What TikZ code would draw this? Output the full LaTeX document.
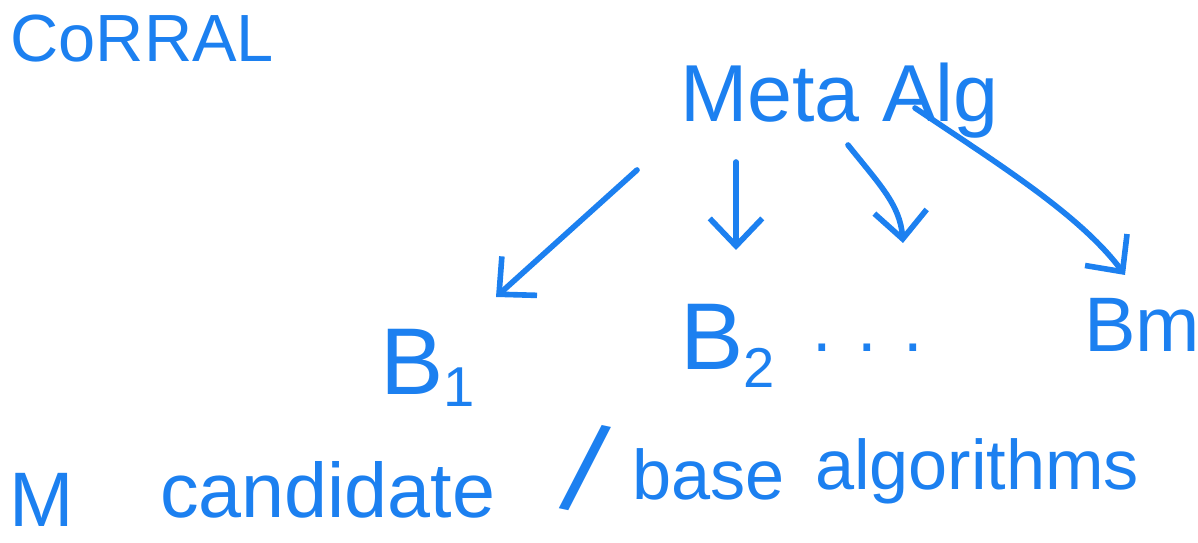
\documentclass[tikz,border=0pt]{standalone}
\usepackage{fontspec}
\setmainfont{Liberation Sans}
\usetikzlibrary{arrows.meta}
\definecolor{ink}{RGB}{28,128,240}
\tikzset{
  hand/.style={text=ink, inner sep=0pt, outer sep=0pt},
  link/.style={draw=ink, line width=3.2pt, line cap=round, line join=round,
    -{Straight Barb[length=0.55cm, width=1.05cm, line width=3.2pt]}}
}
\begin{document}
\begin{tikzpicture}[x=0.02cm, y=-0.02cm]
\useasboundingbox (0,0) rectangle (1198,543);
% title
\node[hand, anchor=base east, font=\fontsize{38}{42}\selectfont] (title) at (274,62) {CoRRAL};
% meta algorithm
\node[hand, anchor=base west, font=\fontsize{46}{50}\selectfont] (meta) at (680,122) {Meta Alg};
% base algorithms
\node[hand, anchor=base west, font=\fontsize{54}{58}\selectfont] (b1) at (380,395) {B\raisebox{-0.12em}{\fontsize{32}{34}\selectfont 1}};
\node[hand, anchor=base west, font=\fontsize{54}{58}\selectfont] (b2) at (680,370) {B\raisebox{-0.18em}{\fontsize{32}{34}\selectfont 2}};
\node[hand, anchor=base west, font=\fontsize{40}{44}\selectfont] (dots) at (812,352) {. . .};
\node[hand, anchor=base west, font=\fontsize{44}{48}\selectfont] (bm) at (1084,352) {Bm};
% arrows
\coordinate (s1) at (637,170); \coordinate (e1) at (496,297);
\coordinate (s2) at (736,162); \coordinate (e2) at (736,250);
\coordinate (s3) at (848,145); \coordinate (e3) at (903,243);
\coordinate (s4) at (915,108); \coordinate (e4) at (1125,275);
\draw[link] (s1) -- (e1);
\draw[link] (s2) -- (e2);
\draw[link] (s3) .. controls (880,185) and (900,205) .. (e3);
\draw[link] (s4) .. controls (1000,165) and (1080,215) .. (e4);
% bottom caption
\node[hand, anchor=base west, font=\fontsize{44}{48}\selectfont] (m) at (10,527) {M};
\node[hand, anchor=base west, font=\fontsize{44}{48}\selectfont] (cand) at (160,518) {candidate};
\node[hand, anchor=center, font=\fontsize{70}{74}\selectfont, rotate=-12] (slash) at (585,468) {/};
\node[hand, anchor=base west, font=\fontsize{40}{44}\selectfont] (base) at (632,500) {base};
\node[hand, anchor=base west, font=\fontsize{40}{44}\selectfont] (alg) at (815,490) {algorithms};
\end{tikzpicture}
\end{document}
